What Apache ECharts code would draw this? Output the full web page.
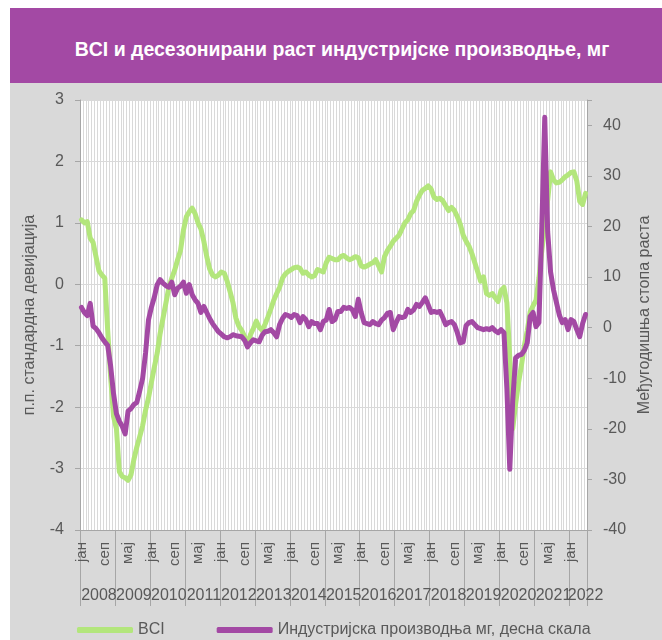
<!DOCTYPE html>
<html>
<head>
<meta charset="utf-8">
<script src="https://cdn.jsdelivr.net/npm/echarts@6/dist/echarts.min.js"></script>
<style>
  html, body { margin: 0; padding: 0; background: #fff; }
  #wrap { position: relative; width: 662px; height: 640px; overflow: hidden; }
  #bg { position: absolute; left: 10px; top: 83px; width: 652px; height: 557px; background: #d9d9d9; }
  #head {
    position: absolute; left: 10px; top: 8px; width: 652px; height: 75px;
    background: #a349a4; color: #fff; font: bold 19.5px "Liberation Sans", Arial, sans-serif;
    text-align: center; line-height: 82px; padding-left: 12px; box-sizing: border-box;
  }
  #chart { position: absolute; left: 0; top: 0; width: 662px; height: 640px; }
</style>
</head>
<body>
<div id="wrap">
  <div id="bg"></div>
  <div id="head">BCI и десезонирани раст индустријске производње, мг</div>
  <div id="chart"></div>
</div>
<script>
// monthly, jan 2008 - jun 2022
const months = [];
for (let y = 2008; y <= 2022; y++) {
  for (let m = 1; m <= 12; m++) {
    if (y === 2022 && m > 6) break;
    months.push(y + '-' + (m < 10 ? '0' + m : m));
  }
}

// month label on every 8th category (jan 2008, sep 2008, maj 2009, ...)
const monthTicks = ['јан', 'сеп', 'мај', 'јан', 'сеп', 'мај', 'јан', 'сеп', 'мај', 'јан', 'сеп',
  'мај', 'јан', 'сеп', 'мај', 'јан', 'сеп', 'мај', 'јан', 'сеп', 'мај', 'јан'];
// year labels centred on their year; split in two rows of axes so ECharts keeps them all
const evenYears = ['2008', '2010', '2012', '2014', '2016', '2018', '2020', '2022'];
const evenYearPos = [6, 30, 54, 78, 102, 126, 150, 173];
const oddYears = ['2009', '2011', '2013', '2015', '2017', '2019', '2021'];
const oddYearPos = [18, 42, 66, 90, 114, 138, 162];

const bci = [
  1.05, 1.00, 1.02, 0.75, 0.68, 0.45, 0.22, 0.15, 0.10, -0.75, -1.50, -2.15,
  -2.35, -3.05, -3.13, -3.15, -3.19, -3.10, -2.85, -2.65, -2.48, -2.30, -2.05, -1.85,
  -1.60, -1.35, -1.12, -0.80, -0.55, -0.30, -0.05, 0.10, 0.23, 0.40, 0.55, 0.88,
  1.10, 1.18, 1.24, 1.15, 1.00, 0.90, 0.70, 0.45, 0.25, 0.15, 0.12, 0.15,
  0.20, 0.18, 0.05, -0.12, -0.30, -0.55, -0.68, -0.75, -0.85, -0.98, -0.82, -0.72,
  -0.60, -0.70, -0.75, -0.65, -0.53, -0.40, -0.26, -0.15, -0.05, 0.10, 0.17, 0.21,
  0.24, 0.27, 0.28, 0.26, 0.18, 0.20, 0.15, 0.12, 0.14, 0.24, 0.22, 0.20,
  0.35, 0.44, 0.42, 0.40, 0.40, 0.45, 0.47, 0.43, 0.40, 0.42, 0.45, 0.43,
  0.30, 0.28, 0.30, 0.33, 0.35, 0.40, 0.30, 0.20, 0.45, 0.55, 0.62, 0.70,
  0.75, 0.80, 0.90, 1.00, 1.05, 1.15, 1.20, 1.35, 1.45, 1.53, 1.56, 1.60,
  1.55, 1.42, 1.38, 1.40, 1.36, 1.28, 1.20, 1.25, 1.20, 1.10, 0.98, 0.80,
  0.70, 0.62, 0.50, 0.35, 0.20, 0.05, 0.12, -0.15, -0.18, -0.15, -0.22, -0.28,
  -0.10, -0.05, -0.30, -1.20, -2.35, -1.95, -1.60, -1.32, -1.00, -0.75, -0.45, -0.35,
  -0.26, 0.10, 0.55, 0.95, 1.37, 1.83, 1.70, 1.65, 1.66, 1.70, 1.75, 1.78,
  1.82, 1.83, 1.68, 1.35, 1.30, 1.48
];

const ip = [
  4.0, 3.0, 2.4, 4.8, 0.3, -0.2, -1.0, -2.0, -2.8, -3.5, -7.5, -13.0,
  -17.0, -18.5, -19.5, -21.0, -16.5, -16.0, -15.2, -14.8, -12.5, -10.0, -5.0, 1.5,
  4.0, 6.0, 8.5, 9.5, 8.8, 8.3, 8.0, 9.0, 6.5, 7.8, 8.2, 9.0,
  6.8, 8.5, 6.5, 5.5, 4.8, 3.0, 4.2, 3.0, 1.8, 0.8, 0.0, -0.8,
  -1.3, -1.8, -2.0, -1.8, -1.4, -1.6, -1.7, -1.8, -2.5, -3.8, -3.0, -2.4,
  -2.6, -2.8, -1.5, -0.8, -0.7, -0.4, -1.0, -1.8, 0.6, 1.8, 2.6, 2.4,
  2.0, 2.6, 2.4, 1.0, 2.2, 1.6, 0.2, 1.2, 0.8, 0.8, -0.4, 1.2,
  1.5, 3.6, 1.2, 1.6, 3.2, 3.2, 4.0, 3.8, 4.0, 3.5, 2.2, 5.6,
  3.0, 1.0, 0.8, 0.6, 1.2, 0.8, 0.6, 1.5, 2.0, 2.8, 3.0, -0.4,
  1.0, 2.2, 2.0, 2.2, 3.6, 3.0, 3.5, 4.6, 4.2, 5.0, 5.9, 4.5,
  3.0, 3.2, 3.0, 3.2, 2.0, 0.6, 1.0, 1.2, 0.6, -1.0, -3.0, -2.8,
  0.4, 1.0, 1.2, 0.6, 0.0, -0.2, -0.4, -0.2, -0.4, 0.0, -0.6, -1.0,
  -0.4, -1.0, -12.0, -28.0, -14.5, -6.0, -5.5, -5.3, -4.5, -3.0, 2.2, 3.0,
  0.2, 1.0, 20.0, 41.6, 19.0, 11.0, 7.5, 5.0, 2.5, 1.0, 1.6, -0.4,
  1.6, 1.2, -0.4, -1.8, 0.8, 2.6
];

const font = '"Liberation Sans", Arial, sans-serif';
const axisGrey = '#a6a6a6';
const textGrey = '#595959';

function yearAxis(names, positions) {
  return {
    type: 'category',
    data: months,
    position: 'bottom',
    offset: 50,
    axisLine: { show: false, onZero: false },
    axisTick: { show: false },
    axisLabel: {
      margin: 8, fontSize: 16, color: textGrey,
      interval: function (i) { return positions.indexOf(i) >= 0; },
      formatter: function (v) { return names[positions.indexOf(months.indexOf(v))] || ''; }
    },
    splitLine: { show: false }
  };
}

const myChart = echarts.init(document.getElementById('chart'));
const option = {
  backgroundColor: 'transparent',
  textStyle: { fontFamily: font },
  animation: false,
  grid: {
    left: 80, right: 75, top: 100, bottom: 110,
    show: true, backgroundColor: '#fff', borderWidth: 0
  },
  legend: {
    left: 72, top: 617,
    itemWidth: 56, itemHeight: 6, itemGap: 52,
    icon: 'roundRect',
    textStyle: { fontSize: 16, color: textGrey, fontFamily: font },
    data: ['BCI', 'Индустријска производња мг, десна скала']
  },
  xAxis: [
    {
      type: 'category',
      data: months,
      axisLine: { show: true, onZero: false, lineStyle: { color: axisGrey } },
      axisTick: { show: true, interval: 11, length: 76, lineStyle: { color: axisGrey } },
      axisLabel: {
        interval: 7, rotate: 90, margin: 12,
        fontSize: 15, color: textGrey,
        formatter: function (v) { return monthTicks[months.indexOf(v) / 8] || ''; }
      },
      splitLine: { show: true, interval: 0, lineStyle: { color: '#d9d9d9' } }
    },
    yearAxis(evenYears, evenYearPos),
    yearAxis(oddYears, oddYearPos)
  ],
  yAxis: [
    {
      type: 'value', min: -4, max: 3, interval: 1,
      name: 'п.п. стандардна девијација', nameLocation: 'middle', nameRotate: 90, nameGap: 42,
      nameTextStyle: { fontSize: 16, color: textGrey },
      axisLine: { show: true, lineStyle: { color: axisGrey } },
      axisTick: { show: true, length: 5, lineStyle: { color: axisGrey } },
      axisLabel: { fontSize: 16, color: textGrey, margin: 16 },
      splitLine: { show: true, lineStyle: { color: '#d9d9d9' } }
    },
    {
      type: 'value', min: -40, max: 45, interval: 10, position: 'right',
      name: 'Међугодишња стопа раста', nameLocation: 'middle', nameRotate: 90, nameGap: 46,
      nameTextStyle: { fontSize: 16, color: textGrey },
      axisLine: { show: true, lineStyle: { color: axisGrey } },
      axisTick: { show: true, length: 5, lineStyle: { color: axisGrey } },
      axisLabel: {
        fontSize: 16, color: textGrey, margin: 16,
        formatter: function (v) { return v > 40 ? '' : v; }
      },
      splitLine: { show: false }
    }
  ],
  series: [
    {
      name: 'BCI',
      type: 'line',
      data: bci,
      yAxisIndex: 0,
      symbol: 'none',
      color: '#b3e67c',
      lineStyle: { width: 5, color: '#b3e67c', cap: 'round', join: 'round' }
    },
    {
      name: 'Индустријска производња мг, десна скала',
      type: 'line',
      data: ip,
      yAxisIndex: 1,
      symbol: 'none',
      color: '#a349a4',
      lineStyle: { width: 5, color: '#a349a4', cap: 'round', join: 'round' }
    }
  ]
};
option && myChart.setOption(option);
</script>
</body>
</html>
